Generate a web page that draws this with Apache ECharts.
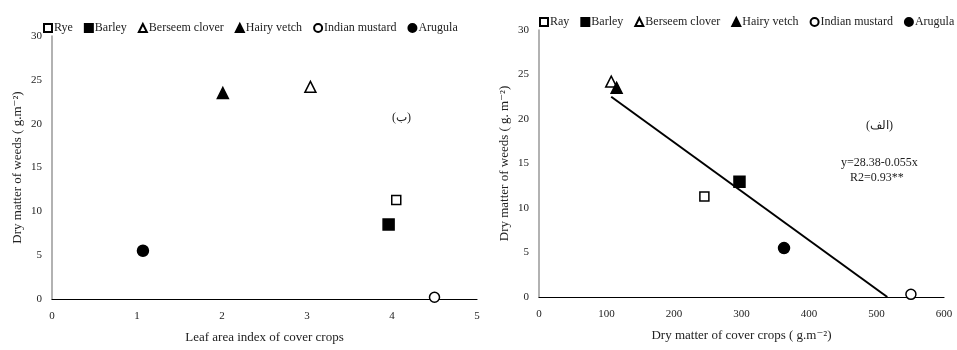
<!DOCTYPE html>
<html>
<head>
<meta charset="utf-8">
<script src="https://cdn.jsdelivr.net/npm/echarts@6/dist/echarts.min.js"></script>
<style>
  html, body { margin: 0; padding: 0; background: #fff; }
  #chart { width: 957px; height: 350px; }
</style>
</head>
<body>
<div id="chart"></div>
<script>
// left panel: leaf area index vs weed dry matter
var leftNames = ['Rye', 'Barley', 'Berseem clover', 'Hairy vetch', 'Indian mustard', 'Arugula'];
var leftX = [4.05, 3.96, 3.04, 2.01, 4.5, 1.07];
var leftY = [11.3, 8.5, 24.2, 23.5, 0.2, 5.5];

// right panel: cover crop dry matter vs weed dry matter
var rightNames = ['Ray', 'Barley', 'Berseem clover', 'Hairy vetch', 'Indian mustard', 'Arugula'];
var rightX = [245, 297, 107, 115, 551, 363];
var rightY = [11.3, 12.95, 24.2, 23.5, 0.3, 5.5];

// regression line y = 28.38 - 0.055x
var fitX = [107, 516];
var fitY = [22.5, 0];

var FONT = '"Liberation Serif", "DejaVu Serif", serif';
var marks = [
    { symbol: 'rect', size: 9, fill: '#fff' },
    { symbol: 'rect', size: 11, fill: '#000' },
    { symbol: 'triangle', size: 11, fill: '#fff' },
    { symbol: 'triangle', size: 11, fill: '#000' },
    { symbol: 'circle', size: 10, fill: '#fff' },
    { symbol: 'circle', size: 11, fill: '#000' }
];

function makeSeries (names, xs, ys, idx) {
    var out = [];
    for (var i = 0; i < names.length; i++) {
        out.push({
            name: names[i],
            type: 'scatter',
            xAxisIndex: idx,
            yAxisIndex: idx,
            symbol: marks[i].symbol,
            symbolSize: marks[i].size,
            itemStyle: {
                color: marks[i].fill,
                borderColor: '#000',
                borderWidth: 1.5,
                opacity: 1
            },
            data: [[xs[i], ys[i]]],
            z: 5
        });
    }
    return out;
}

function legendData (names) {
    return names.map(function (n, i) {
        return { name: n, icon: marks[i].symbol };
    });
}

function xAxisCommon (gridIndex, min, max, interval, name) {
    return {
        type: 'value',
        gridIndex: gridIndex,
        min: min,
        max: max,
        interval: interval,
        name: name,
        nameLocation: 'middle',
        nameGap: 32,
        nameTextStyle: { fontFamily: FONT, fontSize: 13, color: '#222' },
        axisLine: { show: true, onZero: false, lineStyle: { color: '#000', width: 1.2 } },
        axisTick: { show: false },
        axisLabel: { fontFamily: FONT, fontSize: 11, color: '#222', margin: 12 },
        splitLine: { show: false }
    };
}

function yAxisCommon (gridIndex, name) {
    return {
        type: 'value',
        gridIndex: gridIndex,
        min: 0,
        max: 30,
        interval: 5,
        name: name,
        nameLocation: 'middle',
        nameGap: 28,
        nameTextStyle: { fontFamily: FONT, fontSize: 13, color: '#222' },
        axisLine: { show: true, lineStyle: { color: '#999', width: 1.5 } },
        axisTick: { show: false },
        axisLabel: { fontFamily: FONT, fontSize: 11, color: '#222', margin: 10 },
        splitLine: { show: false }
    };
}

var series = makeSeries(leftNames, leftX, leftY, 0).concat(makeSeries(rightNames, rightX, rightY, 1));
series.push({
    name: 'fit',
    type: 'line',
    xAxisIndex: 1,
    yAxisIndex: 1,
    symbol: 'none',
    lineStyle: { color: '#000', width: 2 },
    data: fitX.map(function (x, i) { return [x, fitY[i]]; }),
    z: 3
});

var option = {
    backgroundColor: '#fff',
    animation: false,
    grid: [
        { left: 52, right: 480, top: 36, bottom: 51 },
        { left: 539, right: 13, top: 30, bottom: 53 }
    ],
    legend: [
        {
            left: 38, top: 17, width: 440,
            itemWidth: 8, itemHeight: 8, itemGap: 11,
            data: legendData(leftNames),
            textStyle: { fontFamily: FONT, fontSize: 12, color: '#222', padding: [0, 0, 0, -3] }
        },
        {
            left: 534, top: 11, width: 440,
            itemWidth: 8, itemHeight: 8, itemGap: 11,
            data: legendData(rightNames),
            textStyle: { fontFamily: FONT, fontSize: 12, color: '#222', padding: [0, 0, 0, -3] }
        }
    ],
    xAxis: [
        xAxisCommon(0, 0, 5, 1, 'Leaf area index of cover crops'),
        xAxisCommon(1, 0, 600, 100, 'Dry matter of cover crops ( g.m\u207B\u00B2)')
    ],
    yAxis: [
        yAxisCommon(0, 'Dry matter of weeds ( g.m\u207B\u00B2)'),
        yAxisCommon(1, 'Dry matter of weeds ( g. m\u207B\u00B2)')
    ],
    graphic: [
        { type: 'text', left: 392, top: 112, style: { text: '(ب)', font: '12px ' + FONT, fill: '#222' } },
        { type: 'text', left: 866, top: 120, style: { text: '(الف)', font: '12px ' + FONT, fill: '#222' } },
        { type: 'text', left: 841, top: 157, style: { text: 'y=28.38-0.055x', font: '12px ' + FONT, fill: '#222' } },
        { type: 'text', left: 850, top: 172, style: { text: 'R2=0.93**', font: '12px ' + FONT, fill: '#222' } }
    ],
    series: series
};

var chart = echarts.init(document.getElementById('chart'), null, { renderer: 'canvas' });
chart.setOption(option);
</script>
</body>
</html>
